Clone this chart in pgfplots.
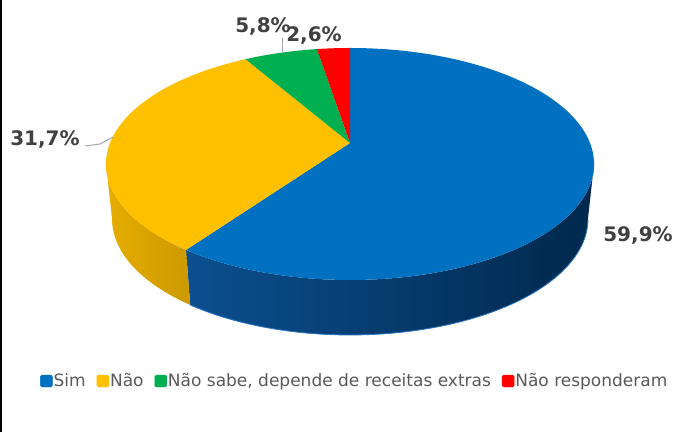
\documentclass[border=0pt]{standalone}
\usepackage{fontspec}
\setmainfont{DejaVu Sans}
\usepackage{pgfplots}
\usepackage{pgfplotstable}
\pgfplotsset{compat=1.18}

\definecolor{cSim}{HTML}{0070C0}
\definecolor{cNao}{HTML}{FFC000}
\definecolor{cNS}{HTML}{00B050}
\definecolor{cNR}{HTML}{FF0000}
\definecolor{labelgray}{HTML}{404040}
\definecolor{legendgray}{HTML}{595959}
\definecolor{leadgray}{HTML}{A6A6A6}
\definecolor{simL}{HTML}{0B4F8F}
\definecolor{simR}{HTML}{00284C}
\definecolor{simRim}{HTML}{2A78C4}
\definecolor{naoL}{HTML}{E6AE00}
\definecolor{naoR}{HTML}{CC9900}

% share of answers, in percent (clockwise from 12 o'clock)
\pgfplotstableread{
idx value
0 59.9
1 31.7
2 5.8
3 2.6
}\piedata

\pgfplotstablegetelem{0}{value}\of\piedata \let\vA\pgfplotsretval
\pgfplotstablegetelem{1}{value}\of\piedata \let\vB\pgfplotsretval
\pgfplotstablegetelem{2}{value}\of\piedata \let\vC\pgfplotsretval
\pgfplotstablegetelem{3}{value}\of\piedata \let\vD\pgfplotsretval

\pgfmathsetmacro\tA{90}
\pgfmathsetmacro\tB{\tA-3.6*\vA}
\pgfmathsetmacro\tC{\tB-3.6*\vB}
\pgfmathsetmacro\tD{\tC-3.6*\vC}
\pgfmathsetmacro\tE{\tD-3.6*\vD}
% silhouette extremes of the tilted disc
\def\tR{-10.43}
\def\tL{-169.57}

\begin{document}
\begin{tikzpicture}
\begin{axis}[
  width=700bp, height=432bp, scale only axis,
  xmin=0, xmax=700, ymin=0, ymax=432,
  hide axis, clip=false,
  declare function={
    fx(\a)=350+240*cos(\a)/(1+0.181*sin(\a));
    fy(\a)=289+112.2*sin(\a)/(1+0.181*sin(\a));
    gx(\a)=350+234*cos(\a)/(1+0.181*sin(\a));
    gy(\a)=fy(\a)-55;
    sa(\t,\a,\b)=(\t<100.5)*(\a+(\b-\a)*\t/100)+(\t>100.5)*(\b+(\a-\b)*(\t-101)/100);
    sx(\t,\a,\b)=(\t<100.5)*fx(sa(\t,\a,\b))+(\t>100.5)*gx(sa(\t,\a,\b));
    sy(\t,\a,\b)=(\t<100.5)*fy(sa(\t,\a,\b))+(\t>100.5)*gy(sa(\t,\a,\b));
  },
  legend columns=-1,
  legend style={
    at={(0.0571,0.118)}, anchor=west,
    draw=none, fill=none, inner sep=0pt,
    font=\fontsize{17bp}{20bp}\selectfont, text=legendgray,
    nodes={inner sep=1bp},
    /tikz/every even column/.append style={column sep=10bp},
  },
  legend image code/.code={\fill[#1, rounded corners=1.5bp] (0bp,-6bp) rectangle (12bp,6bp);},
]
% sides
\addplot[forget plot, draw=none, left color=simL, right color=simR,
  variable=\t, domain=0:201, samples=202] ({sx(\t,\tR,\tB)},{sy(\t,\tR,\tB)}) -- cycle;
\addplot[forget plot, draw=none, left color=naoL, right color=naoR,
  variable=\t, domain=0:201, samples=202] ({sx(\t,\tB,\tL)},{sy(\t,\tB,\tL)}) -- cycle;
% thin light rim along the lower edge of the blue side
\addplot[forget plot, draw=simRim, line width=0.8bp, variable=\t, domain=\tB:\tR, samples=120]
  ({gx(\t)},{gy(\t)});
% tops
\addplot[forget plot, fill=cSim, draw=none, variable=\t, domain=\tB:\tA, samples=150]
  ({fx(\t)},{fy(\t)}) -- (axis cs:350,289) -- cycle;
\addplot[forget plot, fill=cNao, draw=none, variable=\t, domain=\tC:\tB, samples=90]
  ({fx(\t)},{fy(\t)}) -- (axis cs:350,289) -- cycle;
\addplot[forget plot, fill=cNS, draw=none, variable=\t, domain=\tD:\tC, samples=30]
  ({fx(\t)},{fy(\t)}) -- (axis cs:350,289) -- cycle;
\addplot[forget plot, fill=cNR, draw=none, variable=\t, domain=\tE:\tD, samples=20]
  ({fx(\t)},{fy(\t)}) -- (axis cs:350,289) -- cycle;

\addlegendimage{cSim}\addlegendentry{Sim}
\addlegendimage{cNao}\addlegendentry{Não}
\addlegendimage{cNS}\addlegendentry{Não sabe, depende de receitas extras}
\addlegendimage{cNR}\addlegendentry{Não responderam}

% leader lines
\draw[draw=leadgray, line width=1bp] (axis cs:282,394) -- (axis cs:282,379);
\draw[draw=leadgray, line width=1bp] (axis cs:85,286) -- (axis cs:100,288) -- (axis cs:113,295);

% data labels
\begin{scope}[every node/.style={font=\bfseries\fontsize{20bp}{24bp}\selectfont, text=labelgray, inner sep=0pt}]
\node at (axis cs:638,197) {59,9\%};
\node at (axis cs:45,292) {31,7\%};
\node at (axis cs:263,405) {5,8\%};
\node at (axis cs:314,396.5) {2,6\%};
\end{scope}

% frame edge on the left
\draw[black, line width=2bp] (axis cs:1,0) -- (axis cs:1,432);
\end{axis}
\pgfresetboundingbox
\path (current axis.south west) rectangle (current axis.north east);
\end{tikzpicture}
\end{document}
